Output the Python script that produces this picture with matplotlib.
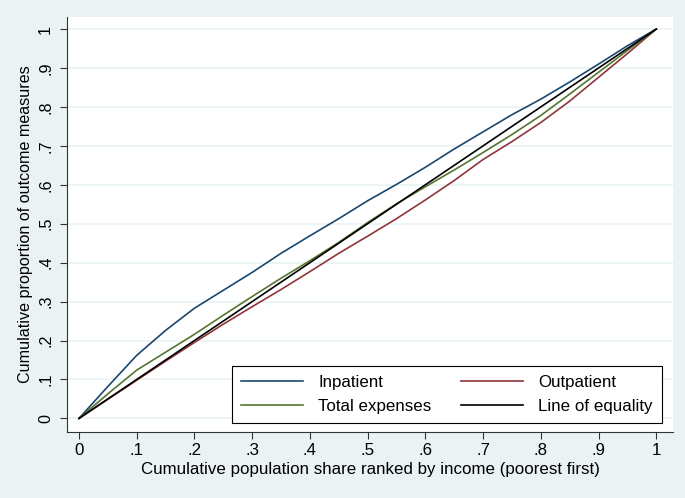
import matplotlib
matplotlib.use("Agg")
import matplotlib.pyplot as plt

plt.rcParams['font.family'] = ['Liberation Sans', 'DejaVu Sans']

pop_share = [0, .05, .1, .15, .2, .25, .3, .35, .4, .45, .5, .55, .6, .65, .7, .75, .8, .85, .9, .95, 1]
inpatient = [0, .082, .162, .226, .283, .329, .375, .424, .469, .513, .559, .601, .645, .692, .736, .780, .820, .864, .910, .957, 1]
outpatient = [0, .049, .098, .147, .195, .242, .287, .331, .377, .424, .468, .513, .561, .611, .665, .711, .760, .815, .876, .937, 1]
total_exp = [0, .063, .124, .170, .216, .265, .313, .360, .405, .452, .503, .551, .595, .638, .683, .729, .778, .833, .889, .945, 1]
equality = [0, 1]

ticks = [0, .1, .2, .3, .4, .5, .6, .7, .8, .9, 1]
tick_labels = ['0', '.1', '.2', '.3', '.4', '.5', '.6', '.7', '.8', '.9', '1']

bg = '#EAF2F3'
fsx = 12.2
fsy = 11.6
fsl = 12.2
fig = plt.figure(figsize=(6.85, 4.98), dpi=100, facecolor=bg)
ax = fig.add_axes([67/685, 66/498, 606/685, 415/498])
ax.set_facecolor('white')

l_in, = ax.plot(pop_share, inpatient, color='#1a476f', lw=1.2, label='Inpatient')
l_out, = ax.plot(pop_share, outpatient, color='#90353b', lw=1.2, label='Outpatient')
l_tot, = ax.plot(pop_share, total_exp, color='#55752f', lw=1.2, label='Total expenses')
l_eq, = ax.plot(equality, equality, color='black', lw=1.2, label='Line of equality')

ax.set_xlim(-0.0208, 1.029)
ax.set_ylim(-0.035, 1.031)
ax.set_xticks(ticks)
ax.set_xticklabels(tick_labels)
ax.set_yticks(ticks)
ax.set_yticklabels(tick_labels, rotation=90, va='center')
ax.tick_params(axis='both', direction='out', length=5, width=0.8, color='#333333')
ax.tick_params(axis='x', pad=3, labelsize=fsx)
ax.tick_params(axis='y', pad=5, labelsize=fsy)
ax.grid(axis='y', color=bg, lw=1.2)
ax.set_axisbelow(True)
for s in ['top', 'right']:
    ax.spines[s].set_visible(False)
for s in ['left', 'bottom']:
    ax.spines[s].set_color('#333333')
    ax.spines[s].set_linewidth(0.8)

ax.set_xlabel('Cumulative population share ranked by income (poorest first)', fontsize=fsx, labelpad=3)
ax.set_ylabel('Cumulative proportion of outcome measures', fontsize=fsy, labelpad=4)

fpx = fsl * 100 / 72
leg = ax.legend([l_in, l_tot, l_out, l_eq],
                ['Inpatient', 'Total expenses', 'Outpatient', 'Line of equality'],
                ncol=2, loc='lower right', bbox_to_anchor=(0.982, 0.0217),
                fontsize=fsl, frameon=True, fancybox=False, edgecolor='black', framealpha=1,
                handlelength=62 / fpx, handletextpad=15 / fpx, labelspacing=0.5,
                columnspacing=30 / fpx, borderpad=0.55, borderaxespad=0)
leg.get_frame().set_linewidth(0.8)

fig.savefig('out.png', dpi=100, facecolor=bg)
